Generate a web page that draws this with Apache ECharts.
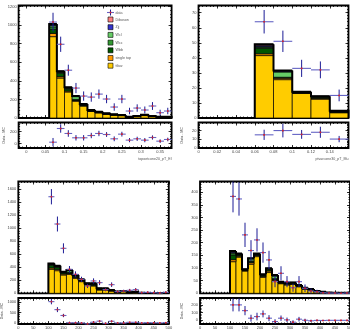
<!DOCTYPE html>
<html><head><meta charset="utf-8">
<script src="https://cdn.jsdelivr.net/npm/echarts@6/dist/echarts.min.js"></script>
<style>html,body{margin:0;padding:0;background:#fff}#c{width:350px;height:331px}</style>
</head><body><div id="c"></div>
<script>
// ---------- DATA ----------
// Panel A (top-left): topoetcone20_pT_El, bins of width 0.02
const aBinLow = [0.06,0.08,0.10,0.12,0.14,0.16,0.18,0.20,0.22,0.24,0.26,0.28,0.30,0.32,0.34,0.36];
const aBinWidth = 0.02;
const aTtbar = [875,430,280,180,128,70,55,40,31,25,10,15,26,15,10,10];
const aStop  = [35,15,10,8,6,4,3,3,2,2,1,2,3,2,1,1];
const aWbb   = [45,35,20,6,5,4,3,2,2,2,1,2,4,2,1,1];
const aWcc   = [25,10,8,6,4,3,3,2,1,1,1,1,1,1,1,1];
const aWcl   = [15,6,6,30,3,2,2,1,1,1,1,1,1,1,1,1];
const aZjj   = [12,6,4,4,3,2,1,1,1,1,0,0,1,0,0,0];
const aDib   = [5,2,2,2,1,1,1,1,1,0,0,0,0,0,0,0];
const aData  = [1032,793,514,322,236,225,257,204,118,204,75,107,86,129,57,75];
const aDataErr = [100,82,59,55,50,50,50,45,40,45,35,40,38,42,32,35];
const aDiff  = [22,250,167,95,95,133,167,150,78,156,56,78,56,100,39,67];
const aDiffErr = [70,70,55,45,45,45,45,40,40,40,35,35,35,35,30,30];
const aXLabels = [0,0.05,0.1,0.15,0.2,0.25,0.3,0.35];
const aYLabels = [0,200,400,600,800,1000,1200];
const aRYLabels = [0,200];

// Panel B (top-right): ptvarcone30_pT_Mu, bins of width 0.02
const bBinLow = [0.06,0.08,0.10,0.12,0.14];
const bBinWidth = 0.02;
const bTtbar = [41.5,25.5,16.3,12.5,3.5];
const bStop  = [1.2,1.0,0.3,0.6,0.3];
const bWbb   = [3.6,0.3,0.2,0.4,0.3];
const bWcc   = [0.6,0.3,0.2,0.3,0.2];
const bWcl   = [0.6,3.5,0.2,0.3,0.2];
const bZjj   = [0.8,0.6,0.2,0.3,0.3];
const bDib   = [0.7,0.3,0.1,0.1,0.1];
const bData  = [64,51,33,32,15];
const bDataErr = [7.8,7.1,5.7,5.6,3.9];
const bDiff  = [15,20,15.5,18,10];
const bDiffErr = [6,8,5.2,6.5,3.7];
const bXLabels = [0,0.02,0.04,0.06,0.08,0.1,0.12,0.14];
const bYLabels = [0,10,20,30,40,50,60,70];
const bRYLabels = [0,10,20];

// Panel C (bottom-left), bins of width 20
const cBinLow = [100,120,140,160,180,200,220,240,260,280,300,320,340,360,380,400,420,440,460,480];
const cBinWidth = 20;
const cTtbar = [370,348,282,290,230,179,128,113,51,51,35,18,25,10,12,5,3,2,2,2];
const cStop  = [20,20,15,15,15,10,8,10,6,6,4,2,3,1,3,1,1,0,0,0];
const cWbb   = [40,30,18,12,18,12,8,15,8,8,5,2,3,1,4,1,0,0,0,0];
const cWcc   = [12,12,8,8,8,6,4,6,5,5,3,2,2,1,3,1,0,0,0,0];
const cWcl   = [8,6,5,28,6,4,3,6,4,4,2,1,1,1,2,1,1,1,1,1];
const cZjj   = [7,6,3,5,3,3,2,3,2,2,1,1,1,1,1,1,0,0,0,0];
const cDib   = [3,3,2,2,2,1,1,1,1,1,1,0,0,0,0,0,0,0,0,0];
const cData  = [1486,1066,692,369,292,215,113,190,164,56,133,26,35,46,56,10,15,10,5,15];
const cDataErr = [118,115,77,51,45,40,32,40,38,25,35,18,20,22,25,12,15,12,8,14];
const cDiff  = [1026,641,359,9,10,0,-41,36,87,-21,82,0,0,31,31,0,10,7,2,12];
const cDiffErr = [130,120,80,55,50,45,35,45,40,28,38,20,22,25,28,12,15,12,8,14];
const cXLabels = [0,50,100,150,200,250,300,350,400,450,500];
const cYLabels = [0,200,400,600,800,1000,1200,1400,1600];
const cRYLabels = [0,500,1000];

// Panel D (bottom-right), bins of width 20
const dBinLow = [100,120,140,160,180,200,220,240,260,280,300,320,340,360,380,400,420,440,460,480];
const dBinWidth = 20;
const dTtbar = [125,143,88,115,145,63,82,50,38,33,35,26,16,12,6,4,2,1,1,1];
const dStop  = [8,4,2,6,4,4,6,3,2,3,2,2,2,1,1,1,0,0,0,0];
const dWbb   = [18,4,2,4,3,3,5,3,2,3,2,2,1,1,1,0,0,0,0,0];
const dWcc   = [6,2,1,3,2,2,2,2,1,1,1,1,1,1,0,0,0,0,0,0];
const dWcl   = [4,2,1,8,1,1,2,10,1,1,1,1,1,1,1,1,1,1,1,1];
const dZjj   = [4,1,1,2,1,1,1,3,1,1,1,1,1,1,0,0,0,0,0,0];
const dDib   = [2,1,0,1,1,1,1,1,1,1,1,0,0,0,0,0,0,0,0,0];
const dData  = [383,373,231,169,211,161,132,46,79,46,22,46,20,9,6,2,1,1,0,1];
const dDataErr = [63,66,48,41,46,40,36,22,28,22,16,22,15,10,8,5,3,2,2,2];
const dDiff  = [200,200,125,26,47,82,26,-18,26,4,-26,13,-1,-8,-3,-4,-2,-2,-2,-2];
const dDiffErr = [85,85,60,45,50,45,40,30,35,30,25,30,20,15,10,8,5,4,4,4];
const dXLabels = [0,50,100,150,200,250,300,350,400,450,500];
const dYLabels = [0,50,100,150,200,250,300,350,400];
const dRYLabels = [0,100,200];

const stackNames = ['ttbar','single top','Wbb','Wcc','Wcl','Zjj','Diboson'];
const legendNames = ['Diboson','Zjj','Wcl','Wcc','Wbb','single top','ttbar'];
const colors = {'ttbar':'#ffcc00','single top':'#ff9900','Wbb':'#005500','Wcc':'#339933','Wcl':'#66cc66','Zjj':'#3333cc','Diboson':'#ff7f7f'};

// ---------- BUILD ----------
const FONT = 'Liberation Sans';
const grids = [], xAxes = [], yAxes = [], series = [];

function steps(min, max, s){
  const out = []; const k0 = Math.ceil(min / s - 1e-9);
  for (let k = k0; k * s <= max + 1e-9; k++) out.push(+(k * s).toFixed(6));
  return out;
}
function addAxis(list, gi, pos, mn, mx, ticks, len, labels, extra){
  const ax = {type:'value', gridIndex:gi, position:pos, min:mn, max:mx, silent:true,
    axisLine:{show:false, onZero:false}, splitLine:{show:false}, splitArea:{show:false},
    axisTick:{show:true, inside:true, length:len, customValues:ticks, lineStyle:{color:'#000', width:0.8}},
    axisLabel: labels ? {show:true, customValues:labels, formatter:(v)=>String(+(+v).toFixed(6)),
      fontSize:4, color:'#444', fontFamily:FONT, margin:2} : {show:false},
    axisPointer:{show:false}};
  Object.assign(ax, extra || {});
  list.push(ax); return list.length - 1;
}
function panel(box, xr, yr, xMaj, xMinStep, yMaj, yMinStep, showXLab, yName, yNameGap){
  const gi = grids.length;
  grids.push({left:box[0], top:box[1], width:box[2], height:box[3], show:true, borderColor:'#000',
    borderWidth:1.8, backgroundColor:'rgba(0,0,0,0)', containLabel:false, outerBoundsMode:'none'});
  const xMin = steps(xr[0], xr[1], xMinStep), yMin = steps(yr[0], yr[1], yMinStep);
  const xi = addAxis(xAxes, gi, 'bottom', xr[0], xr[1], xMaj, 3, showXLab ? xMaj : null);
  addAxis(xAxes, gi, 'top', xr[0], xr[1], xMaj, 3, null);
  addAxis(xAxes, gi, 'bottom', xr[0], xr[1], xMin, 1.5, null);
  addAxis(xAxes, gi, 'top', xr[0], xr[1], xMin, 1.5, null);
  const yextra = yName ? {name:yName, nameLocation:'middle', nameRotate:90, nameGap:yNameGap,
    nameTextStyle:{fontSize:3.6, color:'#444', fontFamily:FONT}} : {};
  const yi = addAxis(yAxes, gi, 'left', yr[0], yr[1], yMaj, 3, yMaj, yextra);
  addAxis(yAxes, gi, 'right', yr[0], yr[1], yMaj, 3, null);
  addAxis(yAxes, gi, 'left', yr[0], yr[1], yMin, 1.5, null);
  addAxis(yAxes, gi, 'right', yr[0], yr[1], yMin, 1.5, null);
  return {xi, yi};
}
function rectRenderer(fill){
  return (params, api) => {
    const a = api.coord([api.value(0), api.value(2)]);
    const b = api.coord([api.value(1), api.value(3)]);
    return {type:'rect', shape:{x:a[0], y:b[1], width:b[0]-a[0], height:a[1]-b[1]},
      style:{fill:fill, stroke:'#000', lineWidth:0.7}};
  };
}
function envRenderer(params, api){
  const x0 = api.value(0), x1 = api.value(1), p = api.value(2), t = api.value(3), last = api.value(4);
  const pts = [api.coord([x0, p]), api.coord([x0, t]), api.coord([x1, t])];
  if (last) pts.push(api.coord([x1, 0]));
  return {type:'polyline', shape:{points:pts}, style:{stroke:'#000', lineWidth:2, fill:'none'}};
}
function dataRenderer(params, api){
  const x = api.value(0), y = api.value(1), hw = api.value(2), e = api.value(3);
  const cs = params.coordSys; const top = cs.y, bot = cs.y + cs.height;
  const cl = v => Math.max(top, Math.min(bot, v));
  const c = api.coord([x, y]), l = api.coord([x - hw, y]), r = api.coord([x + hw, y]);
  const t = cl(api.coord([x, y + e])[1]), b = cl(api.coord([x, y - e])[1]);
  return {type:'group', children:[
    {type:'line', shape:{x1:l[0], y1:c[1], x2:r[0], y2:c[1]}, style:{stroke:'#6464c4', lineWidth:1.1}},
    {type:'line', shape:{x1:c[0], y1:t, x2:c[0], y2:b}, style:{stroke:'#1c1c96', lineWidth:1}},
    {type:'rect', shape:{x:c[0]-0.8, y:c[1]-0.8, width:1.6, height:1.6}, style:{fill:'#e02020'}}
  ]};
}
function addStack(P, lows, w, comps){
  const n = lows.length; const base = new Array(n).fill(0);
  comps.forEach((vals, k) => {
    const data = lows.map((x0, i) => { const b = base[i]; base[i] += vals[i]; return [x0, x0 + w, b, base[i]]; });
    series.push({type:'custom', name:stackNames[k], xAxisIndex:P.xi, yAxisIndex:P.yi, silent:true, z:2,
      data:data, renderItem:rectRenderer(colors[stackNames[k]])});
  });
  const env = lows.map((x0, i) => [x0, x0 + w, i ? base[i-1] : 0, base[i], i === n - 1 ? 1 : 0]);
  series.push({type:'custom', xAxisIndex:P.xi, yAxisIndex:P.yi, silent:true, z:3, data:env, renderItem:envRenderer});
}
function addData(P, lows, w, vals, errs){
  const data = lows.map((x0, i) => [x0 + w / 2, vals[i], w / 2, errs[i]]);
  series.push({type:'custom', name:'data', xAxisIndex:P.xi, yAxisIndex:P.yi, silent:true, z:4, data:data, renderItem:dataRenderer});
}

// Panel A
const PA  = panel([18.6,5.5,153,112.5], [-0.02,0.38], [0,1210], aXLabels, 0.01, aYLabels, 40, false);
const PAr = panel([18.6,122.5,153,25.5], [-0.02,0.38], [-75,350], aXLabels, 0.01, aRYLabels, 40, true, 'Data - MC', 8.8);
addStack(PA, aBinLow, aBinWidth, [aTtbar,aStop,aWbb,aWcc,aWcl,aZjj,aDib]);
addData(PA, aBinLow, aBinWidth, aData, aDataErr);
addData(PAr, aBinLow, aBinWidth, aDiff, aDiffErr);
// Panel B
const PB  = panel([198.5,5.5,150,112.5], [0,0.16], [0,74.8], bXLabels, 0.004, bYLabels, 2, false);
const PBr = panel([198.5,122.5,150,25.5], [0,0.16], [-0.5,29.5], bXLabels, 0.004, bRYLabels, 2, true, 'Data - MC', 14.7);
addStack(PB, bBinLow, bBinWidth, [bTtbar,bStop,bWbb,bWcc,bWcl,bZjj,bDib]);
addData(PB, bBinLow, bBinWidth, bData, bDataErr);
addData(PBr, bBinLow, bBinWidth, bDiff, bDiffErr);
// Panel C
const PC  = panel([18.3,181.5,150.5,111.8], [0,500], [0,1720], cXLabels, 10, cYLabels, 40, false);
const PCr = panel([18.3,298,150.5,26], [0,500], [-50,1200], cXLabels, 10, cRYLabels, 100, true, 'Data - MC', 9.5);
addStack(PC, cBinLow, cBinWidth, [cTtbar,cStop,cWbb,cWcc,cWcl,cZjj,cDib]);
addData(PC, cBinLow, cBinWidth, cData, cDataErr);
addData(PCr, cBinLow, cBinWidth, cDiff, cDiffErr);
// Panel D
const PD  = panel([200,181.5,150,111.8], [0,500], [0,442], dXLabels, 10, dYLabels, 10, false);
const PDr = panel([200,298,150,26], [0,500], [-50,290], dXLabels, 10, dRYLabels, 20, true, 'Data - MC', 16.5);
addStack(PD, dBinLow, dBinWidth, [dTtbar,dStop,dWbb,dWcc,dWcl,dZjj,dDib]);
addData(PD, dBinLow, dBinWidth, dData, dDataErr);
addData(PDr, dBinLow, dBinWidth, dDiff, dDiffErr);

// Legend (top-left panel) and axis titles
const txt = (s, x, y, align) => ({type:'text', x:x, y:y, style:{text:s, fontSize:3.6, fontFamily:FONT, fill:'#555',
  align:align, verticalAlign:'middle', textAlign:align, textVerticalAlign:'middle'}});
const legendEls = [
  {type:'line', shape:{x1:107, y1:12.5, x2:114, y2:12.5}, style:{stroke:'#6464c4', lineWidth:1.1}},
  {type:'line', shape:{x1:110.5, y1:9.5, x2:110.5, y2:15.5}, style:{stroke:'#1c1c96', lineWidth:1}},
  {type:'rect', shape:{x:109.7, y:11.7, width:1.6, height:1.6}, style:{fill:'#e02020'}},
  txt('data', 115.5, 12.5, 'left')
];
legendNames.forEach((nm, i) => {
  const cy = 19.5 + i * 7.7;
  legendEls.push({type:'rect', shape:{x:108, y:cy-2.5, width:5, height:5}, style:{fill:colors[nm], stroke:'#000', lineWidth:0.6}});
  legendEls.push(txt(nm, 115.5, cy, 'left'));
});

const chart = echarts.init(document.getElementById('c'), null, {renderer:'canvas', width:350, height:331});
chart.setOption({
  animation:false,
  backgroundColor:'#fff',
  grid:grids, xAxis:xAxes, yAxis:yAxes, series:series,
  graphic:[{type:'group', z:100, children:legendEls.concat([
    txt('topoetcone20_pT_El', 171.5, 158.8, 'right'),
    txt('ptvarcone30_pT_Mu', 348.5, 158.8, 'right')
  ])}]
});
</script></body></html>
